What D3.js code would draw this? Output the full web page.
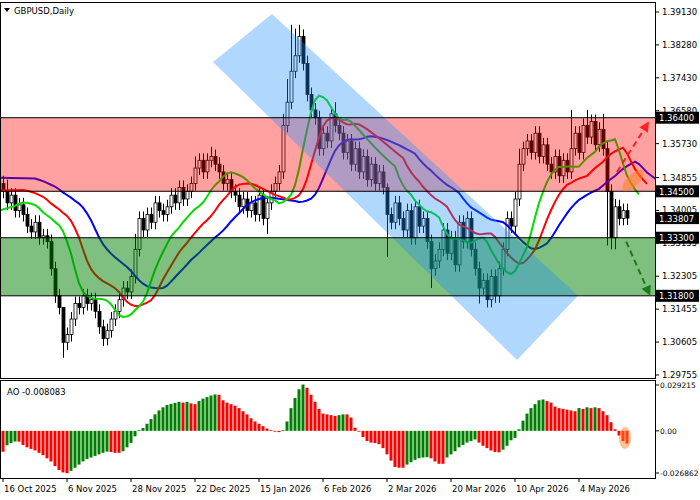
<!DOCTYPE html>
<html><head><meta charset="utf-8">
<script src="https://cdn.jsdelivr.net/npm/d3@7/dist/d3.min.js"></script>
<style>body{margin:0;background:#fff}svg{display:block}text{font-family:"DejaVu Sans",sans-serif;font-size:8.5px}</style>
</head><body><svg id="c" width="700" height="500"></svg>
<script>
const closes=[1.3450,1.3420,1.3440,1.3400,1.3415,1.3390,
1.3360,1.3345,1.3370,1.3330,1.3335,
1.3320,1.3250,1.3180,1.3150,
1.3060,1.3080,
1.3120,1.3160,1.3150,1.3180,1.3160,1.3170,
1.3140,1.3100,1.3070,1.3090,1.3120,
1.3140,1.3170,1.3200,1.3190,1.3230,
1.3300,1.3380,1.3350,1.3390,1.3370,1.3420,
1.3400,1.3390,1.3410,
1.3440,1.3420,1.3460,1.3430,1.3450,1.3470,
1.3510,1.3530,1.3500,1.3530,1.3540,1.3520,
1.3500,1.3470,1.3480,1.3450,
1.3440,1.3410,1.3430,1.3400,1.3420,
1.3390,1.3440,1.3380,1.3420,
1.3450,1.3470,1.3500,
1.3620,
1.3680,1.3760,1.3800,1.3850,
1.3780,1.3700,
1.3660,1.3640,1.3560,1.3600,1.3580,
1.3650,1.3620,1.3600,1.3550,1.3580,1.3520,1.3560,
1.3500,1.3540,1.3480,1.3520,1.3470,1.3500,1.3460,
1.3390,1.3370,1.3420,1.3380,
1.3350,1.3400,1.3330,1.3410,1.3360,
1.3380,1.3320,1.3250,1.3270,1.3300,
1.3350,1.3290,1.3330,1.3260,
1.3370,1.3320,1.3380,1.3300,1.3250,
1.3200,1.3220,1.3170,1.3230,1.3180,1.3250,
1.3300,1.3380,1.3360,1.3430,
1.3520,1.3560,
1.3580,1.3550,1.3600,1.3540,1.3570,
1.3520,1.3500,1.3540,1.3490,1.3530,1.3500,
1.3560,1.3600,1.3550,1.3620,
1.3590,1.3630,1.3570,1.3610,1.3560,
1.3450,1.3330,
1.3410,1.3380,1.3400,1.33807];
const firstOpen=1.3470;
const highOverrides={0:1.3490,1:1.3480,15:1.3120,33:1.3340,48:1.3540,52:1.3565,70:1.3650,71:1.3740,72:1.3880,73:1.3870,74:1.3880,76:1.3800,83:1.3680,96:1.3470,129:1.3560,142:1.3660,146:1.3660,150:1.3650,153:1.3430};
const lowOverrides={15:1.3020,16:1.3040,25:1.3050,66:1.3340,96:1.3280,107:1.3200,119:1.3160,121:1.3150,122:1.3150,151:1.3310,152:1.3300,153:1.3300};
const wick=0.0018;
const alligatorSeeds=[1.3485,1.3452,1.3400];
const aoValues=[-13.3,-9.2,-7.8,-6.8,-6.9,
-9.0,-10.5,-11.5,-12.5,-14.0,-15.5,
-17.5,-19.5,-22.5,-25.0,-26.5,-27.0,
-25.5,-23.5,-21.5,-19.5,-18.0,-17.0,
-16.0,-15.0,-14.0,-13.2,-13.5,-14.0,
-14.0,-13.0,-10.5,-7.7,-3.5,
0.5,1.8,4.5,7.5,10.5,
13.0,15.0,16.5,17.2,17.8,18.5,
18.0,18.5,17.5,17.0,19.0,
20.5,21.5,22.5,23.2,23.0,
19.5,18.0,17.0,16.0,14.5,
12.5,10.5,8.0,6.0,4.5,
3.0,1.5,0.5,-0.5,-0.8,
0.5,6.0,14.5,21.0,26.5,29.5,
27.5,23.0,18.5,14.0,11.0,10.5,
10.0,9.5,10.0,10.5,10.5,8.5,2.0,
-0.5,-4.0,-6.5,-7.5,-7.8,
-8.5,-11.0,-15.0,-19.0,-23.0,-23.5,
-23.5,-21.5,-20.0,-18.5,-17.5,-17.0,-16.8,
-17.5,-19.5,-21.0,-21.0,-17.0,
-15.0,-13.0,-10.5,-9.0,-7.5,-6.5,-5.5,
-7.5,-9.5,-11.0,-12.5,-13.5,-13.7,
-12.0,-9.5,-6.0,-4.5,1.0,
6.5,11.0,14.5,17.0,19.5,20.0,
19.0,18.0,15.5,14.5,14.0,13.5,
13.0,12.5,14.5,14.0,15.0,14.5,15.0,14.5,
12.5,10.0,5.5,1.0,-3.0,-6.5,-8.083];
const priceTicks=[1.39130,1.38280,1.37430,1.36580,1.35730,1.34855,1.34005,1.33155,1.32305,1.31455,1.30605,1.29755];
const levels=[1.36400,1.34500,1.33300,1.31800];
const currentPrice=1.33807;
const aoTicks=[0.029215,0,-0.026862];
const aoTickLabels=["0.029215","0.00","-0.026862"];
const dateLabels=["16 Oct 2025","6 Nov 2025","28 Nov 2025","22 Dec 2025","15 Jan 2026","6 Feb 2026","2 Mar 2026","20 Mar 2026","10 Apr 2026","4 May 2026"];
const dateIdx=[0,16,32,48,64,80,96,112,128,144];
const channel=[[52.5,1.3784],[67.25,1.3908],[143.75,1.3180],[128.5,1.3014]];
const upArrow=[[153.5,1.3500],[161.5,1.3630]];
const downArrow=[[155.8,1.3320],[161.8,1.3180]];

const svg=d3.select("#c");
const L=0,R=655,T=2,B=378,AT=380,AB=478;
const x=d3.scaleLinear().domain([0,156]).range([3,627]);
const y=d3.scaleLinear().domain([1.29755,1.39130]).range([375,12]);
const ya=d3.scaleLinear().domain([-0.026862,0.029215]).range([473,385]);

const bars=closes.map((c,i)=>{const o=i?closes[i-1]:firstOpen;
 const h=highOverrides[i]??Math.max(o,c)+wick; const l=lowOverrides[i]??Math.min(o,c)-wick;
 return {i,o,c,h:Math.max(h,o,c),l:Math.min(l,o,c)};});
const main=svg.append("g");
main.append("clipPath").attr("id","cp").append("rect").attr("x",L).attr("y",T).attr("width",R-L).attr("height",B-T);
const g=main.append("g").attr("clip-path","url(#cp)");
bars.forEach(b=>{
 g.append("line").attr("x1",x(b.i)+0.5).attr("x2",x(b.i)+0.5).attr("y1",y(b.h)).attr("y2",y(b.l)).attr("stroke","#000");
 const top=y(Math.max(b.o,b.c)),bot=y(Math.min(b.o,b.c));
 g.append("rect").attr("x",x(b.i)-1).attr("y",top).attr("width",3).attr("height",Math.max(1,bot-top))
  .attr("fill",b.c>=b.o?"#fff":"#000").attr("stroke","#000").attr("stroke-width",0.8);
});
function smma(n,seed){let s=seed;return bars.map(b=>{const m=(b.h+b.l)/2;s=(s*(n-1)+m)/n;return s;});}
[[13,8,"#0000ff"],[8,5,"#ff0000"],[5,3,"#00dd00"]].forEach(([n,sh,col],k)=>{
 const v=smma(n,alligatorSeeds[k]);
 const pts=[[x(-1),alligatorSeeds[k]]].concat(v.map((d,i)=>[x(i+sh),d]));
 g.append("path").datum(pts).attr("fill","none").attr("stroke",col).attr("stroke-width",2)
  .attr("d",d3.line().x(d=>d[0]).y(d=>y(d[1])));
});
g.append("rect").attr("x",L).attr("width",R-L).attr("y",y(levels[0])).attr("height",y(levels[1])-y(levels[0])).attr("fill","rgba(255,0,0,0.37)");
g.append("rect").attr("x",L).attr("width",R-L).attr("y",y(levels[2])).attr("height",y(levels[3])-y(levels[2])).attr("fill","rgba(0,128,0,0.5)");
g.append("path").attr("d",d3.line().x(d=>x(d[0])).y(d=>y(d[1]))(channel)+"Z").attr("fill","rgba(30,144,255,0.35)");
levels.forEach(v=>g.append("line").attr("x1",L).attr("x2",R).attr("y1",y(v)).attr("y2",y(v)).attr("stroke","#000").attr("stroke-width",1));
function arrow(p,col){const [a,b]=p;const x1=x(a[0]),y1=y(a[1]),x2=x(b[0]),y2=y(b[1]);
 const ang=Math.atan2(y2-y1,x2-x1);const len=Math.hypot(x2-x1,y2-y1)-9;
 main.append("line").attr("x1",x1).attr("y1",y1).attr("x2",x1+len*Math.cos(ang)).attr("y2",y1+len*Math.sin(ang)).attr("stroke",col).attr("stroke-width",2).attr("stroke-dasharray","6,4");
 const s=10,w=5;const bx=x2-s*Math.cos(ang),by=y2-s*Math.sin(ang);
 main.append("path").attr("d",`M${x2},${y2}L${bx-w*Math.sin(ang)},${by+w*Math.cos(ang)}L${bx+w*Math.sin(ang)},${by-w*Math.cos(ang)}Z`).attr("fill",col);}
arrow(upArrow,"#ff2020");arrow(downArrow,"#1a7a1a");
main.append("ellipse").attr("cx",x(157.5)).attr("cy",y(1.3478)).attr("rx",14).attr("ry",6).attr("transform",`rotate(-45 ${x(157.5)} ${y(1.3478)})`).attr("fill","rgba(255,130,40,0.6)");
svg.append("rect").attr("x",L+0.5).attr("y",T+0.5).attr("width",R-L).attr("height",B-T).attr("fill","none").attr("stroke","#000");
svg.append("rect").attr("x",L+0.5).attr("y",AT+0.5).attr("width",R-L).attr("height",AB-AT).attr("fill","none").attr("stroke","#000");
priceTicks.forEach(v=>{svg.append("line").attr("x1",R).attr("x2",R+4).attr("y1",y(v)).attr("y2",y(v)).attr("stroke","#000");
 svg.append("text").attr("x",R+7).attr("y",y(v)+3).text(v.toFixed(5));});
levels.concat([currentPrice]).forEach(v=>{svg.append("rect").attr("x",R+1).attr("y",y(v)-6).attr("width",43).attr("height",12).attr("fill","#000");
 svg.append("text").attr("x",R+4).attr("y",y(v)+3.5).attr("fill","#fff").text(v.toFixed(5));});
svg.append("text").attr("x",14).attr("y",14).text("GBPUSD,Daily");
svg.append("path").attr("d","M4,8L10,8L7,12Z").attr("fill","#000");
aoValues.forEach((v,i)=>{const val=v/1000;const prev=i?aoValues[i-1]:v+1;
 svg.append("rect").attr("x",x(i)-1.5).attr("width",3).attr("y",Math.min(ya(val),ya(0))).attr("height",Math.abs(ya(val)-ya(0))||0.5)
 .attr("fill",v>prev?"#008000":"#ff0000");});
svg.append("ellipse").attr("cx",x(155.5)).attr("cy",ya(-0.0045)).attr("rx",6).attr("ry",11).attr("fill","rgba(255,130,40,0.5)");
aoTicks.forEach((v,k)=>{svg.append("line").attr("x1",R).attr("x2",R+4).attr("y1",ya(v)).attr("y2",ya(v)).attr("stroke","#000");
 svg.append("text").attr("x",R+5).attr("y",ya(v)+3).style("font-size","7.5px").text(aoTickLabels[k]);});
svg.append("text").attr("x",7).attr("y",395).text("AO -0.008083");
dateIdx.forEach((d,k)=>{svg.append("line").attr("x1",x(d)).attr("x2",x(d)).attr("y1",AB).attr("y2",AB+4).attr("stroke","#000");
 svg.append("text").attr("x",x(d)+1).attr("y",492).text(dateLabels[k]);});
</script></body></html>
